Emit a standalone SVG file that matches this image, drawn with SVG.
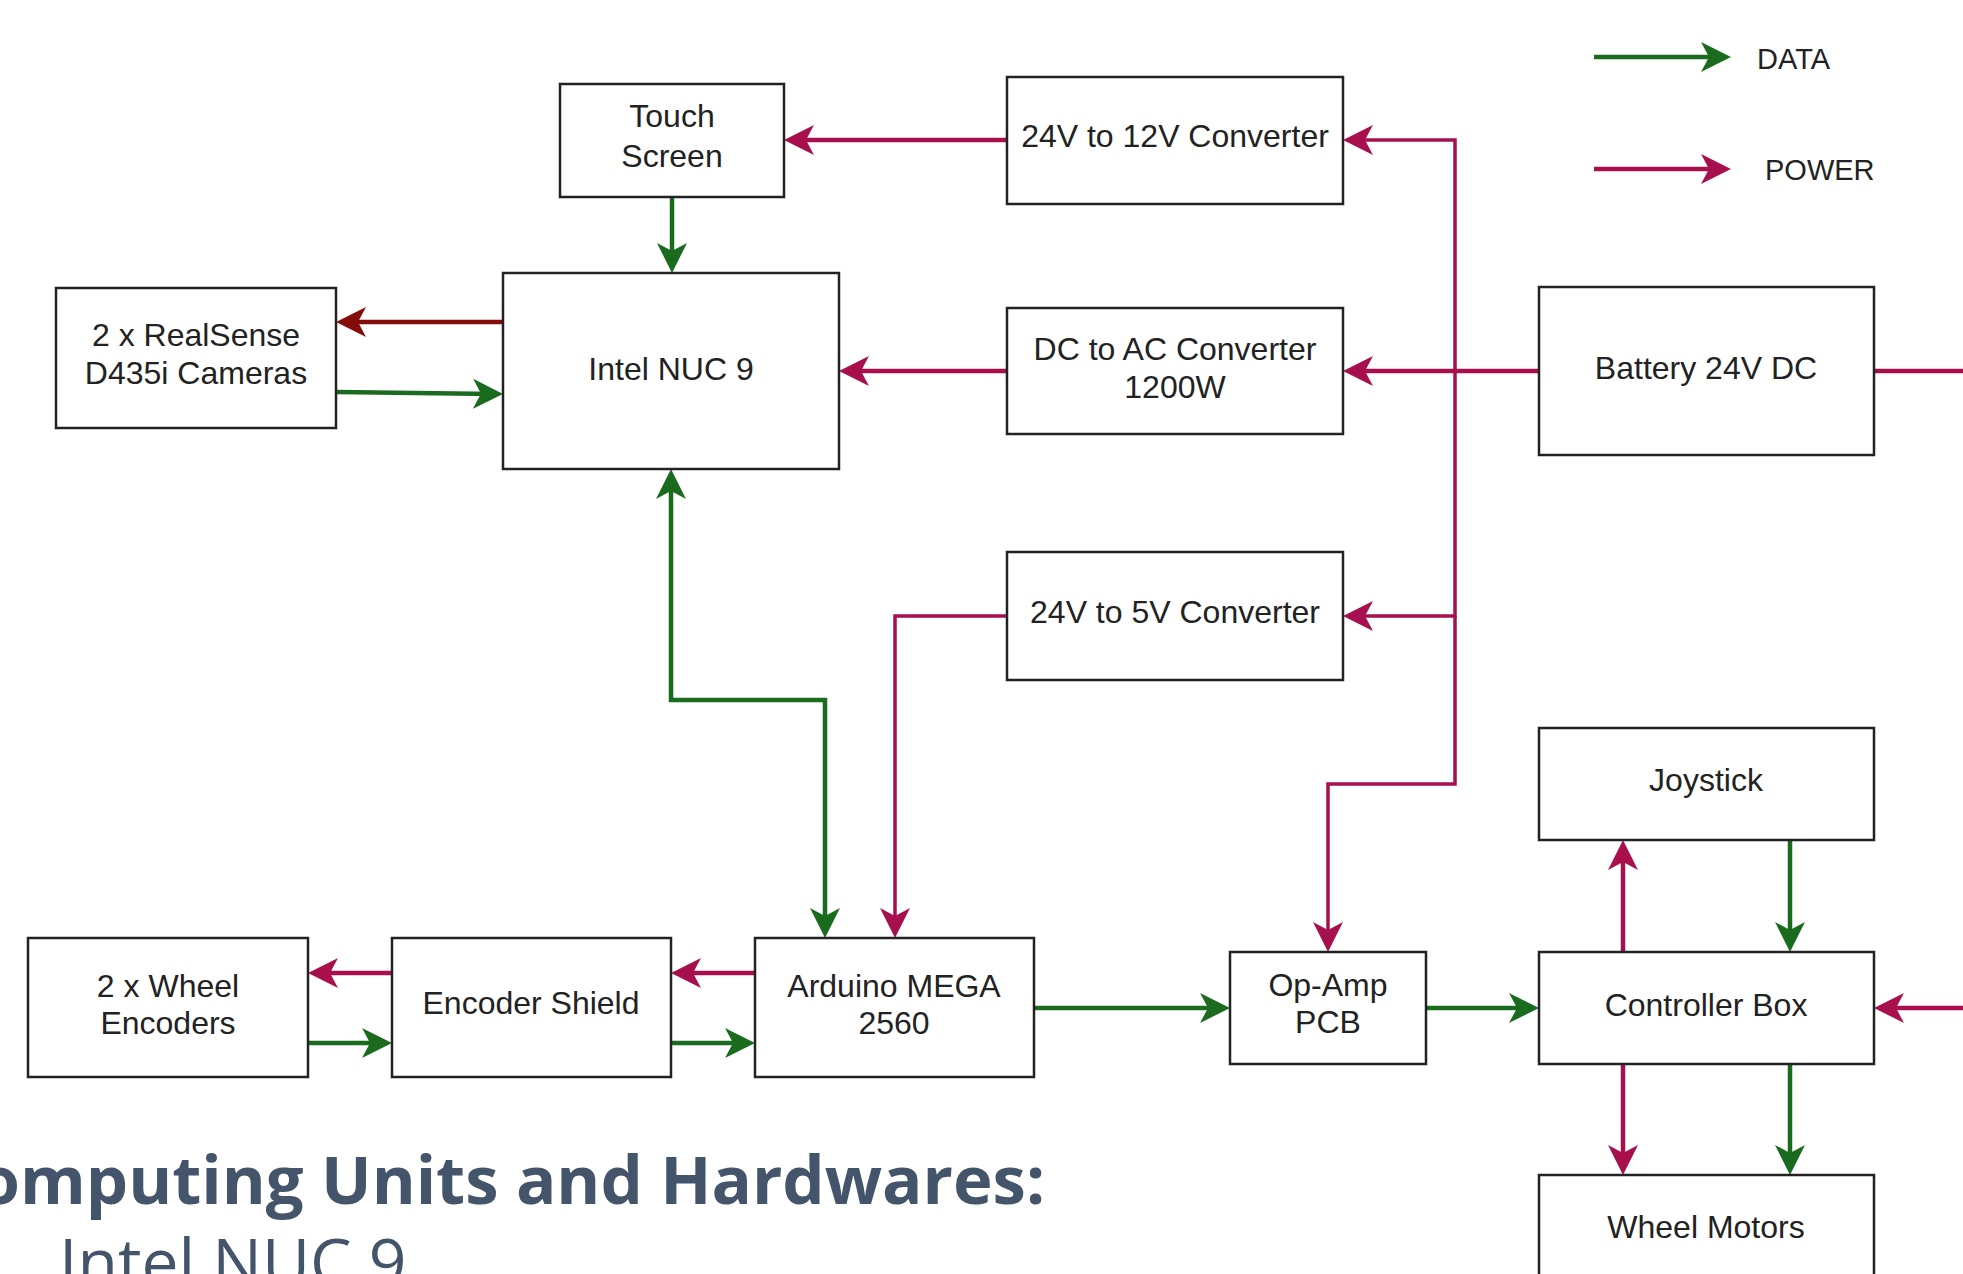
<svg xmlns="http://www.w3.org/2000/svg" width="1963" height="1274" viewBox="0 0 1963 1274">
<style>
.box{fill:#fff;stroke:#222;stroke-width:2.5}
.t{font-family:"Liberation Sans",Arial,sans-serif;font-size:32px;fill:#222;text-anchor:middle;dominant-baseline:central}
.lg{font-family:"Liberation Sans",Arial,sans-serif;font-size:29px;fill:#222;dominant-baseline:central}
.d{fill:none;stroke:#1b6b1f;stroke-width:4.5}
.p{fill:none;stroke:#a8104d;stroke-width:4.5}
.r{fill:none;stroke:#860c0c;stroke-width:4.5}
.pb{fill:none;stroke:#a8104d;stroke-width:3.5}
</style>
<defs>
<marker id="ad" markerUnits="userSpaceOnUse" markerWidth="32" markerHeight="32" refX="22" refY="15" orient="auto-start-reverse" viewBox="0 0 32 32"><path d="M0,0 L30,15 L0,30 L8,15 Z" fill="#1b6b1f"/></marker>
<marker id="ap" markerUnits="userSpaceOnUse" markerWidth="32" markerHeight="32" refX="22" refY="15" orient="auto-start-reverse" viewBox="0 0 32 32"><path d="M0,0 L30,15 L0,30 L8,15 Z" fill="#a8104d"/></marker>
<marker id="ar" markerUnits="userSpaceOnUse" markerWidth="32" markerHeight="32" refX="22" refY="15" orient="auto-start-reverse" viewBox="0 0 32 32"><path d="M0,0 L30,15 L0,30 L8,15 Z" fill="#860c0c"/></marker>
</defs>
<rect width="1963" height="1274" fill="#fff"/>

<g id="connectors">
<path class="p" d="M1007,140 L792,140" marker-end="url(#ap)"/>
<path class="p" d="M1539,371 L1351,371" marker-end="url(#ap)"/>
<path class="pb" d="M1455,371 L1455,140 L1351,140" marker-end="url(#ap)"/>
<path class="pb" d="M1455,371 L1455,616 L1351,616" marker-end="url(#ap)"/>
<path class="pb" d="M1455,616 L1455,784 L1328,784 L1328,944" marker-end="url(#ap)"/>
<path class="p" d="M1007,371 L847,371" marker-end="url(#ap)"/>
<path class="pb" d="M1007,616 L895,616 L895,930" marker-end="url(#ap)"/>
<path class="p" d="M755,973 L679,973" marker-end="url(#ap)"/>
<path class="p" d="M392,973 L316,973" marker-end="url(#ap)"/>
<path class="p" d="M1623,952 L1623,848" marker-end="url(#ap)"/>
<path class="p" d="M1623,1064 L1623,1167" marker-end="url(#ap)"/>
<path class="p" d="M1874,371 L1970,371"/>
<path class="p" d="M1970,1008 L1882,1008" marker-end="url(#ap)"/>
<path class="d" d="M672,197 L672,265" marker-end="url(#ad)"/>
<path class="d" d="M336,392 L495,394" marker-end="url(#ad)"/>
<path class="d" d="M671,477 L671,700 L825,700 L825,930" marker-start="url(#ad)" marker-end="url(#ad)"/>
<path class="d" d="M308,1043 L384,1043" marker-end="url(#ad)"/>
<path class="d" d="M671,1043 L747,1043" marker-end="url(#ad)"/>
<path class="d" d="M1034,1008 L1222,1008" marker-end="url(#ad)"/>
<path class="d" d="M1426,1008 L1531,1008" marker-end="url(#ad)"/>
<path class="d" d="M1790,840 L1790,944" marker-end="url(#ad)"/>
<path class="d" d="M1790,1064 L1790,1167" marker-end="url(#ad)"/>
<path class="r" d="M503,322 L344,322" marker-end="url(#ar)"/>
</g>

<g id="legend">
<path class="d" d="M1594,57 L1723,57" marker-end="url(#ad)"/>
<text class="lg" x="1757" y="59">DATA</text>
<path class="p" d="M1594,169 L1723,169" marker-end="url(#ap)"/>
<text class="lg" x="1765" y="170">POWER</text>
</g>

<g id="touch-screen"><rect class="box" x="560" y="84" width="224" height="113"/><text class="t" x="672" y="116">Touch</text><text class="t" x="672" y="156">Screen</text></g>
<g id="intel-nuc"><rect class="box" x="503" y="273" width="336" height="196"/><text class="t" x="671" y="369">Intel NUC 9</text></g>
<g id="realsense"><rect class="box" x="56" y="288" width="280" height="140"/><text class="t" x="196" y="335">2 x RealSense</text><text class="t" x="196" y="373">D435i Cameras</text></g>
<g id="conv-12v"><rect class="box" x="1007" y="77" width="336" height="127"/><text class="t" x="1175" y="136">24V to 12V Converter</text></g>
<g id="dc-ac"><rect class="box" x="1007" y="308" width="336" height="126"/><text class="t" x="1175" y="349">DC to AC Converter</text><text class="t" x="1175" y="387">1200W</text></g>
<g id="battery"><rect class="box" x="1539" y="287" width="335" height="168"/><text class="t" x="1706" y="368">Battery 24V DC</text></g>
<g id="conv-5v"><rect class="box" x="1007" y="552" width="336" height="128"/><text class="t" x="1175" y="612">24V to 5V Converter</text></g>
<g id="joystick"><rect class="box" x="1539" y="728" width="335" height="112"/><text class="t" x="1706" y="780">Joystick</text></g>
<g id="wheel-encoders"><rect class="box" x="28" y="938" width="280" height="139"/><text class="t" x="168" y="986">2 x Wheel</text><text class="t" x="168" y="1023">Encoders</text></g>
<g id="encoder-shield"><rect class="box" x="392" y="938" width="279" height="139"/><text class="t" x="531" y="1003">Encoder Shield</text></g>
<g id="arduino"><rect class="box" x="755" y="938" width="279" height="139"/><text class="t" x="894" y="986">Arduino MEGA</text><text class="t" x="894" y="1023">2560</text></g>
<g id="op-amp"><rect class="box" x="1230" y="952" width="196" height="112"/><text class="t" x="1328" y="985">Op-Amp</text><text class="t" x="1328" y="1022">PCB</text></g>
<g id="controller-box"><rect class="box" x="1539" y="952" width="335" height="112"/><text class="t" x="1706" y="1005">Controller Box</text></g>
<g id="wheel-motors"><rect class="box" x="1539" y="1175" width="335" height="120"/><text class="t" x="1706" y="1227">Wheel Motors</text></g>

<text x="1045" y="1204" text-anchor="end" style="font-family:'Open Sans','Noto Sans',sans-serif;font-weight:700;font-size:67px;fill:#44546a">Computing Units and Hardwares:</text>
<text x="59" y="1286" style="font-family:'Open Sans','Noto Sans',sans-serif;font-weight:400;font-size:66px;fill:#44546a">Intel NUC 9</text>
</svg>
